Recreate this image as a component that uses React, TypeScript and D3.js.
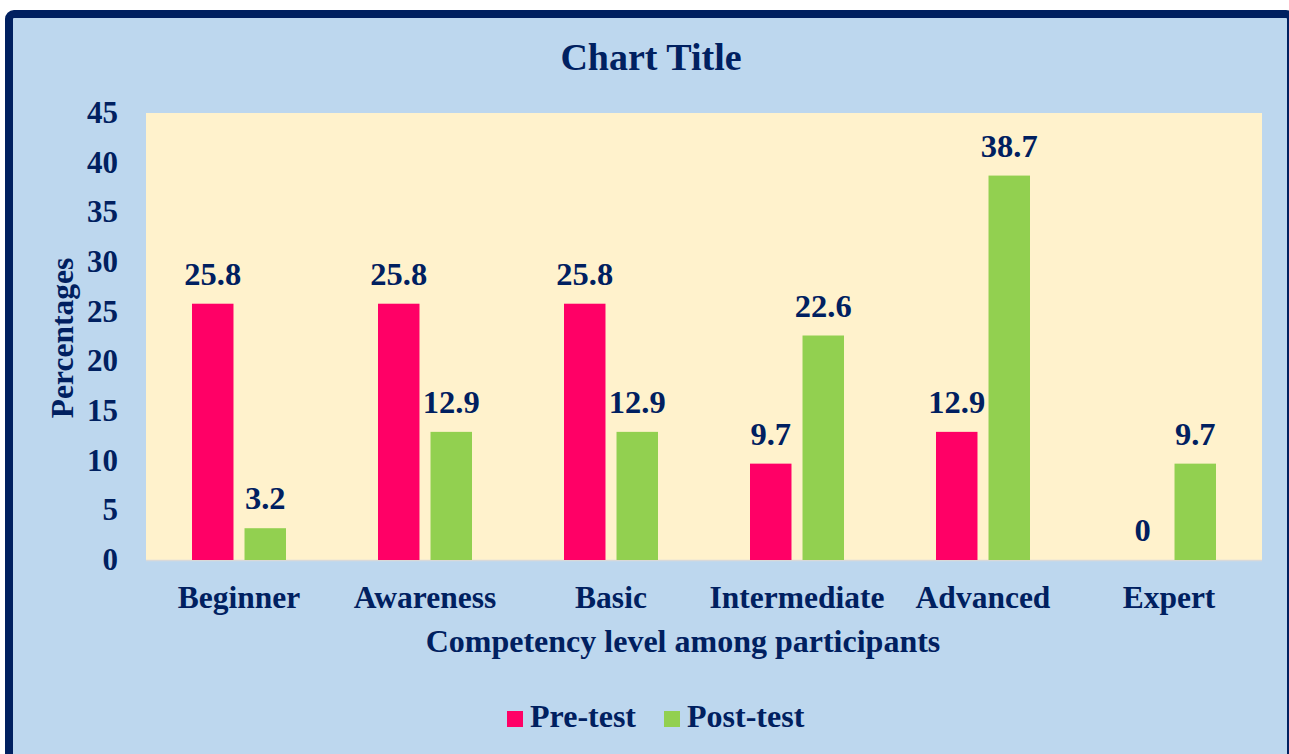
import { useEffect } from 'react'
import { scaleBand, scaleLinear } from 'd3'

const categories = ['Beginner', 'Awareness', 'Basic', 'Intermediate', 'Advanced', 'Expert']
const seriesNames = ['Pre-test', 'Post-test']
const preTest = [25.8, 25.8, 25.8, 9.7, 12.9, 0]
const postTest = [3.2, 12.9, 12.9, 22.6, 38.7, 9.7]
const yTicks = [0, 5, 10, 15, 20, 25, 30, 35, 40, 45]
const colors = ['#FF0066', '#92D050']

const width = 1289
const height = 754
const plot = { left: 146, right: 1262, top: 113, bottom: 560 }
const navy = '#002060'
const font = '"Liberation Serif", "Times New Roman", serif'

const App = () => {
  useEffect(() => {
    document.body.style.margin = '0'
  }, [])

  const x = scaleBand().domain(categories).range([plot.left, plot.right])
  const inner = scaleBand().domain(seriesNames).range([46, x.bandwidth() - 46]).paddingInner(0.21)
  const y = scaleLinear().domain([0, 45]).range([plot.bottom, plot.top])
  const series = [preTest, postTest]

  return (
    <svg width={width} height={height} style={{ display: 'block', fontFamily: font, fontWeight: 'bold' }}>
      <rect x={9} y={14} width={1282} height={800} rx={5} fill="#BDD7EE" stroke={navy} strokeWidth={8} />
      <rect x={plot.left} y={plot.top} width={plot.right - plot.left} height={plot.bottom - plot.top} fill="#FFF2CC" />
      <line x1={plot.left} x2={plot.right} y1={plot.bottom + 0.5} y2={plot.bottom + 0.5} stroke="#D9D9D9" strokeWidth={1.5} />

      <text x={651} y={70} textAnchor="middle" fontSize={38} fill={navy}>Chart Title</text>

      {yTicks.map(t => (
        <text key={t} x={118} y={y(t) + 10} textAnchor="end" fontSize={31} fill={navy}>{t}</text>
      ))}

      <text transform={`translate(73,338) rotate(-90)`} textAnchor="middle" fontSize={31.5} fill={navy}>Percentages</text>

      {categories.map((c, i) => (
        <g key={c}>
          {series.map((s, j) => {
            const bx = (x(c) ?? 0) + (inner(seriesNames[j]) ?? 0)
            const bw = inner.bandwidth()
            return (
              <g key={j}>
                <rect x={bx} y={y(s[i])} width={bw} height={plot.bottom - y(s[i])} fill={colors[j]} />
                <text x={bx + bw / 2} y={y(s[i]) - 19} textAnchor="middle" fontSize={32.5} fill={navy}>{s[i]}</text>
              </g>
            )
          })}
          <text x={(x(c) ?? 0) + x.bandwidth() / 2} y={608} textAnchor="middle" fontSize={31.5} fill={navy}>{c}</text>
        </g>
      ))}

      <text x={683} y={652} textAnchor="middle" fontSize={32} fill={navy}>Competency level among participants</text>

      {seriesNames.map((n, j) => {
        const lx = [507, 664][j]
        return (
          <g key={n}>
            <rect x={lx} y={711} width={16} height={16} fill={colors[j]} />
            <text x={lx + 23} y={727} fontSize={32} fill={navy}>{n}</text>
          </g>
        )
      })}
    </svg>
  )
}

export default App
